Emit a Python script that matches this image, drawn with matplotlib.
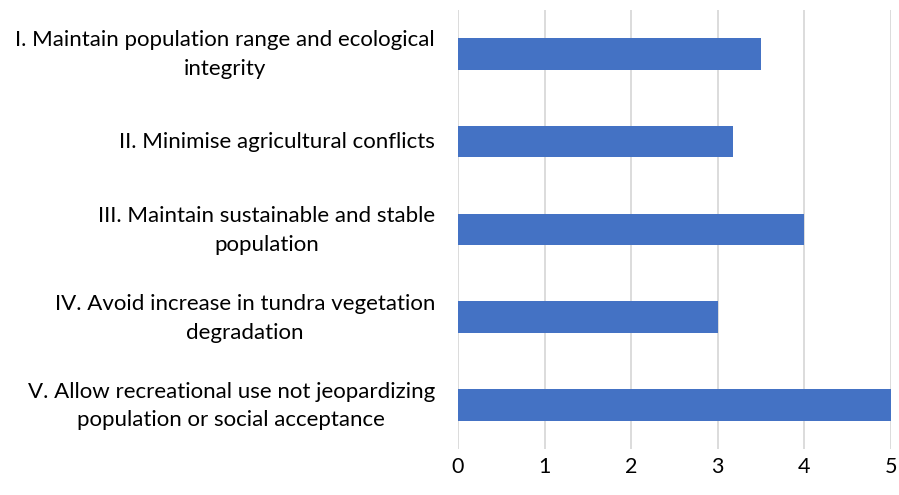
import matplotlib
matplotlib.use("Agg")
import matplotlib.pyplot as plt
from matplotlib.transforms import ScaledTranslation

# Objectives and their scores
objectives = [
    "I. Maintain population range and ecological\nintegrity",
    "II. Minimise agricultural conflicts",
    "III. Maintain sustainable and stable\npopulation",
    "IV. Avoid increase in tundra vegetation\ndegradation",
    "V. Allow recreational use not jeopardizing\npopulation or social acceptance",
]
scores = [3.5, 3.17, 4, 3, 5]
x_ticks = [0, 1, 2, 3, 4, 5]

plt.rcParams["font.family"] = ["Lato", "DejaVu Sans"]

fig = plt.figure(figsize=(8.99, 4.95), dpi=100)
ax = fig.add_axes([0.5095, 0.093, 0.4816, 0.887])

positions = list(range(len(objectives)))
ax.barh(positions, scores, height=0.36, color="#4472C4", zorder=3)

ax.set_xlim(0, 5)
ax.set_ylim(len(objectives) - 0.5, -0.5)
ax.set_xticks(x_ticks)
ax.set_xticklabels([str(t) for t in x_ticks], fontsize=15.5, color="#000000")
ax.set_yticks(positions)
ax.set_yticklabels([])

# category labels: right-aligned block, each line centred within it
label_trans = ax.get_yaxis_transform()
for pos, text in zip(positions, objectives):
    dy = -1 if "\n" in text else 0
    shift = ScaledTranslation(-23 / 100, dy / 100, fig.dpi_scale_trans)
    ax.text(0, pos, text, transform=label_trans + shift, fontsize=16,
            ha="right", va="center", multialignment="center",
            linespacing=1.55, color="#000000")

ax.grid(axis="x", color="#D9D9D9", linewidth=1.3, zorder=0)
ax.tick_params(axis="both", length=0)
ax.tick_params(axis="x", pad=6)
for spine in ax.spines.values():
    spine.set_visible(False)

fig.savefig("out.png", dpi=100)
